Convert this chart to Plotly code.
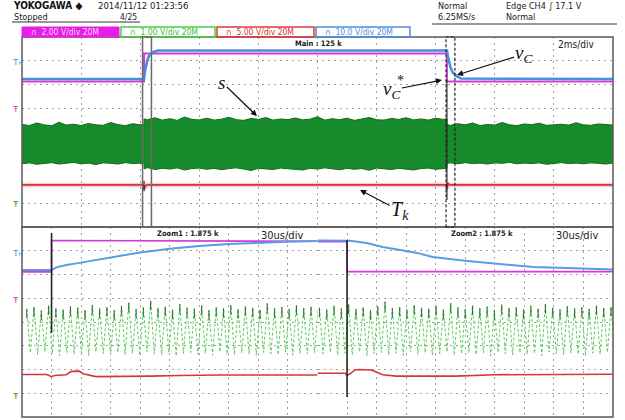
import plotly.graph_objects as go

W, H = 625, 420

# ---------------- main window: time in ms (2 ms/div), levels in screen divisions ----------------
main_vc_ref_t = [0.0, 4.13, 4.13, 14.38, 14.38, 20.0]
main_vc_ref = [6.13, 6.13, 7.31, 7.31, 6.13, 6.13]

main_vc_t = [0.0, 4.13, 4.16, 4.20, 4.25, 4.32, 4.42, 4.60,
             14.38, 14.41, 14.45, 14.50, 14.57, 14.67, 14.85, 20.0]
main_vc = [6.23, 6.23, 6.55, 6.85, 7.08, 7.25, 7.36, 7.43,
           7.43, 7.20, 6.95, 6.72, 6.52, 6.38, 6.25, 6.23]

main_tk_t = [0.0, 4.10, 4.13, 4.17, 4.22, 14.36, 14.38, 14.41, 14.46, 20.0]
main_tk = [1.77, 1.77, 1.58, 1.72, 1.77, 1.77, 1.60, 1.85, 1.77, 1.77]

# envelope of the switching signal s
main_s_t = ([round(0.25 * i, 2) for i in range(17)] + [4.13, 4.13]
            + [round(4.25 + 0.25 * i, 2) for i in range(41)] + [14.38, 14.38]
            + [round(14.5 + 0.25 * i, 2) for i in range(23)])
main_s_hi = ([4.32, 4.27, 4.38, 4.30, 4.26, 4.41, 4.29, 4.33, 4.27, 4.36, 4.30, 4.28, 4.40, 4.31, 4.27, 4.35, 4.30, 4.33]
             + [4.55, 4.52, 4.60, 4.50, 4.56, 4.49, 4.63, 4.53, 4.51, 4.58, 4.50, 4.54, 4.62, 4.52, 4.49, 4.57,
                4.53, 4.61, 4.50, 4.55, 4.52, 4.59, 4.51, 4.54, 4.64, 4.50, 4.56, 4.52, 4.58, 4.49, 4.55, 4.61,
                4.52, 4.50, 4.57, 4.53, 4.60, 4.51, 4.55, 4.50, 4.58, 4.53, 4.56]
             + [4.31, 4.28, 4.35, 4.30, 4.38, 4.27, 4.32, 4.29, 4.40, 4.30, 4.27, 4.34, 4.31, 4.37, 4.28, 4.30,
                4.33, 4.29, 4.39, 4.30, 4.28, 4.34, 4.31, 4.29])
main_s_lo = ([2.66, 2.70, 2.64, 2.69, 2.71, 2.65, 2.68, 2.72, 2.66, 2.69, 2.63, 2.70, 2.68, 2.65, 2.71, 2.67, 2.69, 2.66]
             + [2.45, 2.50, 2.42, 2.47, 2.44, 2.49, 2.40, 2.46, 2.48, 2.43, 2.47, 2.41, 2.46, 2.49, 2.44, 2.38,
                2.47, 2.45, 2.42, 2.48, 2.46, 2.43, 2.40, 2.47, 2.44, 2.49, 2.45, 2.41, 2.47, 2.43, 2.46, 2.39,
                2.48, 2.45, 2.42, 2.47, 2.44, 2.40, 2.46, 2.48, 2.43, 2.45, 2.47]
             + [2.68, 2.70, 2.66, 2.71, 2.67, 2.69, 2.65, 2.70, 2.68, 2.72, 2.66, 2.69, 2.67, 2.70, 2.64, 2.69,
                2.71, 2.67, 2.69, 2.66, 2.70, 2.68, 2.65, 2.69])
main_spike_t = [4.13, 14.38]
main_spike_hi = [1.95, 6.19]
main_spike_lo = [1.50, 1.14]

ZOOM1_START, ZOOM2_START, ZOOM_SPAN = 4.08, 14.35, 0.30   # ms

# ---------------- zoom windows: time in us (30 us/div) ----------------
z1_vc_ref_t = [0, 30, 30, 300]
z1_vc_ref = [6.11, 6.11, 7.43, 7.40]
z1_vc_t = [0, 30, 35, 45, 60, 80, 100, 120, 150, 180, 210, 240, 270, 300]
z1_vc = [6.19, 6.19, 6.30, 6.40, 6.50, 6.65, 6.80, 6.93, 7.08, 7.20, 7.28, 7.34, 7.38, 7.41]
z1_tk_t = [0, 25, 30, 33, 45, 50, 58, 62, 75, 100, 130, 160, 200, 300]
z1_tk = [1.79, 1.79, 1.70, 1.75, 1.78, 1.92, 1.93, 1.82, 1.70, 1.70, 1.72, 1.75, 1.77, 1.77]
z1_s_hi = [4.55, 4.62, 4.48, 4.70, 4.58, 4.52, 4.66, 4.60, 4.50, 4.72, 4.57, 4.63, 4.49, 4.68, 4.81, 4.55,
           4.61, 4.90, 4.58, 4.64, 4.52, 4.75, 4.60, 4.56, 4.69, 4.50, 4.62, 4.58, 4.71, 4.54, 4.66, 4.60,
           4.52, 4.78, 4.58, 4.63, 4.55, 4.70, 4.59, 4.64, 4.57]
z1_s_lo = [2.70, 2.62, 2.75, 2.66, 2.58, 2.72, 2.64, 2.69, 2.60, 2.74, 2.66, 2.61, 2.71, 2.63, 2.68, 2.59,
           2.73, 2.65, 2.62, 2.70, 2.57, 2.67, 2.72, 2.63, 2.69, 2.60, 2.74, 2.65, 2.61, 2.70, 2.64, 2.58,
           2.71, 2.66, 2.62, 2.73, 2.60, 2.68, 2.65, 2.71, 2.63]
z1_spike_t, z1_spike_hi, z1_spike_lo = [30], [7.75], [3.54]

z2_vc_ref_t = [0, 30, 30, 300]
z2_vc_ref = [7.38, 7.38, 6.12, 6.12]
z2_vc_t = [0, 30, 33, 50, 66, 84, 101, 117, 135, 152, 185, 219, 253, 287, 300]
z2_vc = [7.43, 7.43, 7.42, 7.33, 7.16, 7.03, 6.91, 6.74, 6.65, 6.57, 6.44, 6.32, 6.27, 6.23, 6.21]
z2_tk_t = [0, 28, 30, 33, 38, 42, 55, 60, 66, 80, 140, 180, 300]
z2_tk = [1.84, 1.84, 1.75, 1.82, 1.98, 2.00, 1.98, 1.90, 1.78, 1.72, 1.72, 1.78, 1.80]
z2_s_hi = [4.60, 4.52, 4.68, 4.57, 4.74, 4.55, 4.62, 4.50, 4.66, 4.85, 4.58, 4.63, 4.53, 4.71, 4.60, 4.56,
           4.67, 4.52, 4.79, 4.61, 4.55, 4.69, 4.58, 4.64, 4.51, 4.73, 4.59, 4.62, 4.54, 4.68, 4.57, 4.76,
           4.60, 4.53, 4.66, 4.58, 4.62, 4.55, 4.70, 4.59, 4.63]
z2_s_lo = [2.66, 2.72, 2.60, 2.69, 2.63, 2.74, 2.58, 2.67, 2.71, 2.62, 2.68, 2.59, 2.73, 2.64, 2.70, 2.61,
           2.67, 2.74, 2.60, 2.66, 2.71, 2.63, 2.69, 2.58, 2.72, 2.65, 2.61, 2.70, 2.64, 2.68, 2.59, 2.73,
           2.66, 2.62, 2.70, 2.64, 2.57, 2.69, 2.65, 2.72, 2.63]
z2_spike_t, z2_spike_hi, z2_spike_lo = [30], [7.45], [0.84]

S_PERIOD_US = 7.4

C_MAG, C_GRN, C_RED, C_BLU = "#d43cd4", "#178a2c", "#d8343c", "#4a8ee0"
C_GRN_LT, C_GRN_DK = "#5ccf5c", "#2a7a30"
NARROW = "Liberation Sans Narrow, DejaVu Sans Condensed, Arial Narrow, sans-serif"
SERIF = "Liberation Serif, DejaVu Serif, serif"


def zigzag(hi, lo, period, phase):
    t, y = [], []
    for k, (h, l) in enumerate(zip(hi, lo)):
        t += [phase + k * period, phase + (k + 0.5) * period]
        y += [h, l]
    return t, y


def segments(ts, his, los):
    t, y = [], []
    for tt, h, l in zip(ts, his, los):
        t += [tt, tt, None]
        y += [l, h, None]
    return t, y


def peak_marks(hi, period, phase, depth=0.4):
    t, y = [], []
    for k, h in enumerate(hi):
        tt = phase + k * period
        t += [tt, tt, None]
        y += [h, h - depth, None]
    return t, y


fig = go.Figure()


def line(x, y, xa, ya, color, width, dash=None):
    fig.add_trace(go.Scatter(x=x, y=y, xaxis=xa, yaxis=ya, mode="lines",
                             line=dict(color=color, width=width, dash=dash),
                             hoverinfo="skip", showlegend=False))


# main window traces
fig.add_trace(go.Scatter(x=main_s_t, y=main_s_lo, xaxis="x", yaxis="y", mode="lines",
                         line=dict(color="#0f6a1f", width=1), hoverinfo="skip", showlegend=False))
fig.add_trace(go.Scatter(x=main_s_t, y=main_s_hi, xaxis="x", yaxis="y", mode="lines", fill="tonexty",
                         fillcolor=C_GRN, line=dict(color="#0f6a1f", width=1),
                         hoverinfo="skip", showlegend=False))
line(main_tk_t, main_tk, "x", "y", "rgba(216,52,60,0.25)", 4.5)
line(main_tk_t, main_tk, "x", "y", C_RED, 1.8)
line(main_vc_ref_t, main_vc_ref, "x", "y", C_MAG, 2)
line(main_vc_t, main_vc, "x", "y", C_BLU, 2.6)
st, sy = segments(main_spike_t, main_spike_hi, main_spike_lo)
line(st, sy, "x", "y", "#2a2a2a", 1.2)

# zoom windows
for xa, s_hi, s_lo, phase, tk_t, tk, r_t, r, v_t, v, sp in [
    ("x2", z1_s_hi, z1_s_lo, 4.8, z1_tk_t, z1_tk, z1_vc_ref_t, z1_vc_ref, z1_vc_t, z1_vc,
     (z1_spike_t, z1_spike_hi, z1_spike_lo)),
    ("x3", z2_s_hi, z2_s_lo, 2.0, z2_tk_t, z2_tk, z2_vc_ref_t, z2_vc_ref, z2_vc_t, z2_vc,
     (z2_spike_t, z2_spike_hi, z2_spike_lo)),
]:
    zt, zy = zigzag(s_hi, s_lo, S_PERIOD_US, phase)
    line(zt, zy, xa, "y2", C_GRN_LT, 1, "3px,2px")
    pt, py = peak_marks(s_hi, S_PERIOD_US, phase)
    line(pt, py, xa, "y2", C_GRN_DK, 1.1)
    line(tk_t, tk, xa, "y2", C_RED, 1.6)
    line(r_t, r, xa, "y2", C_MAG, 1.6)
    line(v_t, v, xa, "y2", "#5a9ce4", 2)
    st, sy = segments(*sp)
    line(st, sy, xa, "y2", "#1a2a1a", 1.6)

grid = dict(showticklabels=False, ticks="", zeroline=False, showline=False, showgrid=True,
            gridcolor="#a0a0a0", griddash="2px,4px", gridwidth=1, fixedrange=True)


def px(x):
    return x / W


def py_(y):
    return 1 - y / H


fig.update_layout(
    width=W, height=H, margin=dict(l=0, r=0, t=0, b=0),
    paper_bgcolor="white", plot_bgcolor="white",
    xaxis=dict(domain=[px(22), px(613)], range=[0, 20], tickvals=list(range(2, 20, 2)), anchor="y", **grid),
    yaxis=dict(domain=[py_(227), py_(37)], range=[0, 8], tickvals=[1, 5, 6, 7], anchor="x", **grid),
    xaxis2=dict(domain=[px(22), px(317.5)], range=[0, 300], tickvals=list(range(30, 301, 30)), anchor="y2", **grid),
    xaxis3=dict(domain=[px(317.5), px(613)], range=[0, 300], tickvals=list(range(30, 300, 30)), anchor="y2", **grid),
    yaxis2=dict(domain=[py_(417), py_(227)], range=[0, 8], tickvals=list(range(1, 8)), anchor="x2", **grid),
)

shapes = []


def rect(x0, y0, x1, y1, color, width=1.5, fill=None, dash=None):
    shapes.append(dict(type="rect", xref="paper", yref="paper", x0=px(x0), x1=px(x1),
                       y0=py_(y1), y1=py_(y0), line=dict(color=color, width=width, dash=dash),
                       fillcolor=fill if fill else "rgba(0,0,0,0)", layer="above"))


def hline(x0, x1, y, color, width=1):
    shapes.append(dict(type="line", xref="paper", yref="paper", x0=px(x0), x1=px(x1),
                       y0=py_(y), y1=py_(y), line=dict(color=color, width=width)))


# panel frames
rect(22, 37, 613, 227, "#5a5a5a")
rect(22, 227, 613, 417, "#5a5a5a")
# header rules
hline(12, 140, 22, "#333333", 1)
hline(432, 617, 24, "#333333", 1)
# channel boxes
rect(22, 27, 119, 37, "#e61ee6", 1, fill="#e61ee6")
rect(121, 27, 215, 37, "#46cf46", 1.5)
rect(217, 27, 314, 37, "#e03a3a", 1.5)
rect(316, 27, 410, 37, "#4a90e0", 1.5)
# zoom markers in the main window
shapes.append(dict(type="rect", xref="x", yref="y domain", x0=ZOOM1_START, x1=ZOOM1_START + ZOOM_SPAN,
                   y0=0, y1=1, line=dict(color="#6a6a6a", width=1.5)))
shapes.append(dict(type="rect", xref="x", yref="y domain", x0=ZOOM2_START, x1=ZOOM2_START + ZOOM_SPAN,
                   y0=0, y1=1, line=dict(color="#222222", width=1.2, dash="3px,2px")))
fig.update_layout(shapes=shapes)

ann = []


def text(s, x, y, size, color="#222222", family=NARROW, xanchor="left", yanchor="middle",
         weight="normal", style="normal"):
    ann.append(dict(text=s, x=px(x), y=py_(y), xref="paper", yref="paper", showarrow=False,
                    xanchor=xanchor, yanchor=yanchor,
                    font=dict(size=size, color=color, family=family, weight=weight, style=style)))


text("YOKOGAWA ◆", 11, 6, 10, "#111111", weight="bold")
text("2014/11/12 01:23:56", 96, 6, 9.5)
text("Stopped", 12, 17, 9)
text("4/25", 118, 17, 8.5)
text("Normal", 436, 6, 9)
text("6.25MS/s", 436, 17, 9)
text("Edge CH4 ∫ 17.1 V", 504, 6, 9)
text("Normal", 504, 17, 9)

text("∩  2.00 V/div 20M", 29, 32, 8.5, "#ffd2ff")
text("∩  1.00 V/div 20M", 128, 32, 8.5, "#38c038")
text("∩  5.00 V/div 20M", 224, 32, 8.5, "#d83434")
text("∩  10.0 V/div 20M", 323, 32, 8.5, "#4a90e0")

text("Main : 125 k", 293, 44, 7.5, weight="bold")
text("2ms/div", 556, 45, 10)
text("Zoom1 : 1.875 k", 155, 233, 7.5, weight="bold")
text("30us/div", 259, 235, 11)
text("Zoom2 : 1.875 k", 449, 233, 7.5, weight="bold")
text("30us/div", 554, 235, 11)

# level / ground markers at the left edge
for y, s, c in [(62, "Tₕ", C_BLU), (109, "Ŧ", C_MAG), (204, "Ŧ", "#3a9a3a"),
                (253, "Tₕ", C_BLU), (300, "Ŧ", C_MAG), (396, "Ŧ", "#6a8a2a")]:
    text(s, 11, y, 9, c, "Liberation Sans, DejaVu Sans, sans-serif")


# signal labels with their arrows (head on the trace, label offset in pixels)
def label(s, xh, yh, ax, ay, size=19):
    ann.append(dict(text=s, x=xh, y=yh, xref="x", yref="y", ax=ax, ay=ay, showarrow=True,
                    arrowhead=2, arrowsize=1, arrowwidth=1.2, arrowcolor="#111111",
                    standoff=0, startstandoff=0,
                    font=dict(size=size, color="#111111", family=SERIF, style="italic")))


label("s", 7.95, 4.67, -35, -34)
label("v<sub>C</sub>", 14.72, 6.40, 67, -21)
label("v<sub>C</sub>", 14.21, 6.19, -50, 10)
label("T<sub>k</sub>", 11.44, 1.56, 40, 21, 20)
text("*", 400, 80, 14, "#111111", SERIF, "center")

fig.update_layout(annotations=ann)

fig.write_html("out.html")
